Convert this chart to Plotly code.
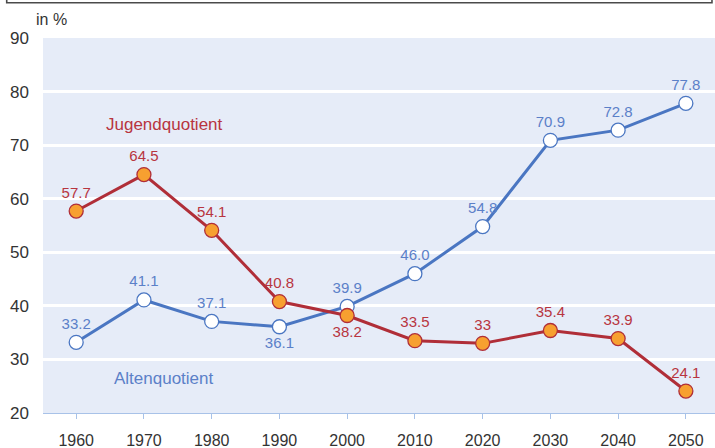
import plotly.graph_objects as go

years = ["1960", "1970", "1980", "1990", "2000", "2010", "2020", "2030", "2040", "2050"]
alten = [33.2, 41.1, 37.1, 36.1, 39.9, 46.0, 54.8, 70.9, 72.8, 77.8]
alten_text = ["33.2", "41.1", "37.1", "36.1", "39.9", "46.0", "54.8", "70.9", "72.8", "77.8"]
alten_pos = ["top center", "top center", "top center", "bottom center", "top center",
             "top center", "top center", "top center", "top center", "top center"]
jugend = [57.7, 64.5, 54.1, 40.8, 38.2, 33.5, 33.0, 35.4, 33.9, 24.1]
jugend_text = ["57.7", "64.5", "54.1", "40.8", "38.2", "33.5", "33", "35.4", "33.9", "24.1"]
jugend_pos = ["top center", "top center", "top center", "top center", "bottom center",
              "top center", "top center", "top center", "top center", "top center"]

FONT = "Liberation Sans, Arial, sans-serif"
BLUE = "#4a76c2"
BLUE_T = "#5b80c8"
RED = "#b02e38"
RED_T = "#b8353f"

xs = list(range(len(years)))

fig = go.Figure()
fig.add_trace(go.Scatter(
    x=xs, y=alten, mode="lines+markers+text", text=alten_text, textposition=alten_pos,
    textfont=dict(color=BLUE_T, size=15, family=FONT),
    line=dict(color=BLUE, width=3),
    marker=dict(size=14, color="white", line=dict(color=BLUE, width=1.3)),
    cliponaxis=False, showlegend=False))
fig.add_trace(go.Scatter(
    x=xs, y=jugend, mode="lines+markers+text", text=jugend_text, textposition=jugend_pos,
    textfont=dict(color=RED_T, size=15, family=FONT),
    line=dict(color=RED, width=3),
    marker=dict(size=14, color="#f7a030", line=dict(color=RED, width=1.3)),
    cliponaxis=False, showlegend=False))

fig.add_annotation(x=1.3, y=73.8, xref="x", yref="y", text="Jugendquotient", showarrow=False,
                   font=dict(color=RED_T, size=17, family=FONT))
fig.add_annotation(x=1.3, y=26.5, xref="x", yref="y", text="Altenquotient", showarrow=False,
                   font=dict(color=BLUE_T, size=17, family=FONT))
fig.add_annotation(x=0.013, y=1.048, xref="paper", yref="paper", text="in %", showarrow=False,
                   xanchor="center", yanchor="middle",
                   font=dict(color="#333333", size=16, family=FONT))

# frame piece at top
fig.add_shape(type="path", xref="paper", yref="paper",
              path="M -0.054 1.2 L -0.054 1.094 L 0.9955 1.094 L 0.9955 1.2",
              line=dict(color="#4a4a4a", width=1.6))

fig.update_layout(
    width=715, height=448,
    margin=dict(l=43, r=0, t=38, b=35),
    paper_bgcolor="white", plot_bgcolor="#e6ecf8",
    font=dict(family=FONT, color="#333333", size=16),
    xaxis=dict(range=[-0.49, 9.43], tickmode="array", tickvals=xs, ticktext=years,
               showgrid=False, zeroline=False, showline=True, linecolor="#a8c2e8",
               linewidth=1, ticks="outside", ticklen=5, tickcolor="#a8c2e8",
               ticklabelstandoff=8, tickfont=dict(size=16, color="#333333")),
    yaxis=dict(range=[20, 90], dtick=10, showgrid=True, gridcolor="white", gridwidth=2.5,
               zeroline=False, showline=False, ticks="", ticklabelstandoff=13,
               tickfont=dict(size=17, color="#333333")),
)
fig.write_html("out.html", config={"displayModeBar": False},
               post_script="document.body.style.margin='0';document.body.style.overflow='hidden';")
